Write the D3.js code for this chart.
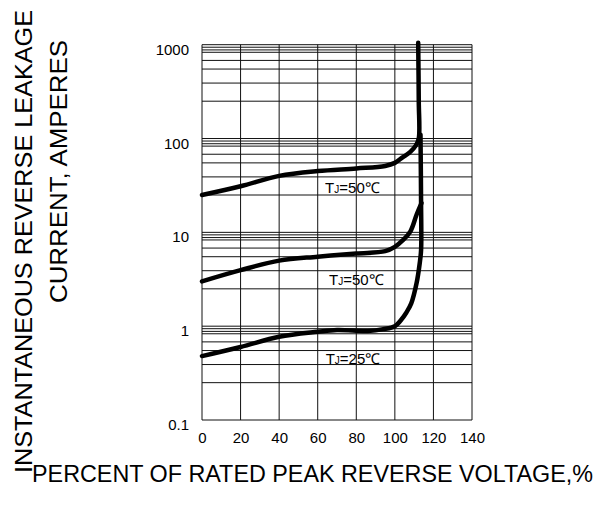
<!DOCTYPE html>
<html>
<head>
<meta charset="utf-8">
<script src="https://cdn.jsdelivr.net/npm/d3@7"></script>
<style>
    body { margin: 0; background: #fff; }
    svg { display: block; }
    text { font-family: "Liberation Sans", Arial, sans-serif; }
</style>
</head>
<body>
<script>
// x: percent of rated peak reverse voltage, y: leakage current
const X_TICKS = [0, 20, 40, 60, 80, 100, 120, 140];
const Y_TICKS = [0.1, 1, 10, 100, 1000];
// minor grid lines inside each decade, as drawn on the original sheet
const MINOR_STEPS = [2.5, 3.9, 5.5, 6.8, 8.3, 8.8, 9.4];

const CURVE_TOP = [
    [0, 25], [20, 31], [40, 40], [60, 45], [80, 48], [95, 51], [100, 55],
    [104, 63], [108, 72], [111, 85], [112.4, 100], [112.4, 250], [112.1, 1050]
];
const CURVE_MID = [
    [0, 3.0], [20, 3.95], [40, 5.0], [60, 5.5], [80, 5.95], [95, 6.3], [100, 7.0],
    [104, 8.2], [108, 10.2], [111.3, 15.5], [113.8, 20.5]
];
const CURVE_LOW = [
    [0, 0.48], [20, 0.6], [40, 0.77], [60, 0.87], [70, 0.91], [86, 0.89], [94, 0.93],
    [100, 1.0], [103, 1.15], [106, 1.4], [108.5, 1.75], [111.3, 2.9], [112.9, 4.7],
    [113.6, 6.5], [113.6, 20], [113.3, 110]
];

// label anchor: centre x (percent), baseline (amperes)
const LABELS = [
    { x: 78, y: 26, temp: "50" },
    { x: 80, y: 2.74, temp: "50" },
    { x: 78.3, y: 0.40, temp: "25" }
];

const LEFT = 202, TOP = 44.7, WIDTH = 270, HEIGHT = 375.3;

const svg = d3.select("body").append("svg")
    .attr("width", 610)
    .attr("height", 518);

const xScale = d3.scaleLinear().domain([0, 140]).range([LEFT, LEFT + WIDTH]);
const yScale = d3.scaleLog().domain([0.1, 1000]).range([TOP + HEIGHT, TOP]);

// horizontal grid: decades plus the sheet's minor lines
let hLines = [];
Y_TICKS.forEach((d, i) => {
    hLines.push(d);
    if (i < Y_TICKS.length - 1)
        MINOR_STEPS.forEach(m => hLines.push(d * m));
});

const grid = svg.append("g").attr("id", "grid");
grid.selectAll("line.h")
    .data(hLines)
    .enter()
    .append("line")
    .attr("class", "h")
    .attr("x1", xScale(0))
    .attr("x2", xScale(140))
    .attr("y1", d => yScale(d))
    .attr("y2", d => yScale(d))
    .attr("stroke", "#111")
    .attr("stroke-width", 1);
grid.selectAll("line.v")
    .data(X_TICKS)
    .enter()
    .append("line")
    .attr("class", "v")
    .attr("x1", d => xScale(d))
    .attr("x2", d => xScale(d))
    .attr("y1", yScale(0.1))
    .attr("y2", yScale(1000))
    .attr("stroke", "#111")
    .attr("stroke-width", 1);

// tick labels
const xAxis = svg.append("g")
    .attr("transform", `translate(0, ${TOP + HEIGHT})`)
    .call(d3.axisBottom(xScale).tickValues(X_TICKS).tickSize(0).tickPadding(12).tickFormat(d3.format("d")));
const yAxis = svg.append("g")
    .attr("transform", `translate(${LEFT}, 0)`)
    .call(d3.axisLeft(yScale).tickValues(Y_TICKS).tickSize(0).tickPadding(13).tickFormat(d => String(d)));
[xAxis, yAxis].forEach(axis => {
    axis.select(".domain").remove();
    axis.attr("font-family", null).attr("font-size", null);
    axis.selectAll("text").attr("font-size", 15).attr("fill", "#000");
});
yAxis.selectAll("text").attr("dy", "0.64em");

// curves
const line = d3.line()
    .x(d => xScale(d[0]))
    .y(d => yScale(d[1]))
    .curve(d3.curveCatmullRom.alpha(0.5));

svg.append("g")
    .selectAll("path")
    .data([CURVE_TOP, CURVE_MID, CURVE_LOW])
    .enter()
    .append("path")
    .attr("d", d => line(d))
    .attr("fill", "none")
    .attr("stroke", "#000")
    .attr("stroke-width", 4.5)
    .attr("stroke-linecap", "round")
    .attr("stroke-linejoin", "round");

// curve labels: T with subscript J
const labels = svg.append("g")
    .selectAll("text")
    .data(LABELS)
    .enter()
    .append("text")
    .attr("x", d => xScale(d.x))
    .attr("y", d => yScale(d.y))
    .attr("text-anchor", "middle")
    .attr("font-size", 15)
    .attr("fill", "#000");
labels.append("tspan").text("T");
labels.append("tspan").attr("font-size", 10).text("J");
labels.append("tspan").text(d => `=${d.temp}℃`);

// axis titles
svg.append("text")
    .attr("transform", "translate(32, 473) rotate(-90)")
    .attr("font-size", 23)
    .attr("textLength", 463)
    .attr("lengthAdjust", "spacingAndGlyphs")
    .text("INSTANTANEOUS REVERSE LEAKAGE");
svg.append("text")
    .attr("transform", "translate(67, 303) rotate(-90)")
    .attr("font-size", 23)
    .attr("textLength", 263)
    .attr("lengthAdjust", "spacingAndGlyphs")
    .text("CURRENT, AMPERES");
svg.append("text")
    .attr("x", 32)
    .attr("y", 482)
    .attr("font-size", 23)
    .attr("textLength", 561)
    .attr("lengthAdjust", "spacingAndGlyphs")
    .text("PERCENT OF RATED PEAK REVERSE VOLTAGE,%");
</script>
</body>
</html>
